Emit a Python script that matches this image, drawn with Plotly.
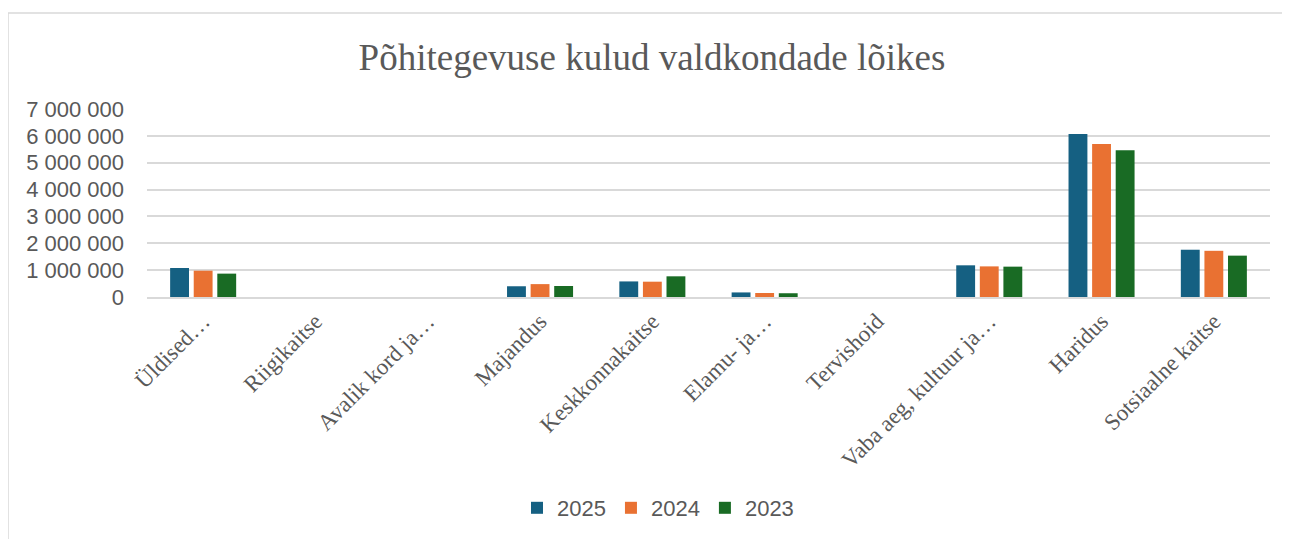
import plotly.graph_objects as go

categories = ["Üldised…", "Riigikaitse", "Avalik kord ja…", "Majandus", "Keskkonnakaitse",
              "Elamu- ja…", "Tervishoid", "Vaba aeg, kultuur ja…", "Haridus", "Sotsiaalne kaitse"]
years = ["2025", "2024", "2023"]
kulud_2025 = [1080000, 0, 0, 400000, 580000, 170000, 0, 1180000, 6070000, 1760000]
kulud_2024 = [980000, 0, 0, 480000, 570000, 150000, 0, 1140000, 5700000, 1720000]
kulud_2023 = [870000, 0, 0, 410000, 770000, 140000, 0, 1130000, 5460000, 1540000]
y_ticks = [0, 1000000, 2000000, 3000000, 4000000, 5000000, 6000000, 7000000]

colors = {"2025": "#156082", "2024": "#E97132", "2023": "#196B24"}
series = {"2025": kulud_2025, "2024": kulud_2024, "2023": kulud_2023}

# page is drawn with an 8px body margin, so target page positions are shifted
OFF = 8
W, H = 1290, 539
L, R, T, B = 147 - OFF, 1270 - OFF, 109 - OFF, 297 - OFF
pw, ph = R - L, B - T


def px_x(x):
    return (x - OFF - L) / pw


def px_y(y):
    return (B - (y - OFF)) / ph


fig = go.Figure()
for yr in years:
    fig.add_trace(go.Bar(x=categories, y=series[yr], name=yr,
                         marker=dict(color=colors[yr], line=dict(width=0))))

grey = "#595959"
fig.update_layout(
    width=W, height=H,
    margin=dict(l=L, r=W - R, t=T, b=H - B),
    paper_bgcolor="white", plot_bgcolor="white",
    barmode="group", bargap=0.37, bargroupgap=0.2,
    separators=", ",
    title=dict(text="Põhitegevuse kulud valdkondade lõikes",
               font=dict(family="Liberation Serif", size=37, color=grey),
               x=(652 - OFF) / W, xanchor="center", y=1 - (57 - OFF) / H, yanchor="middle"),
    legend=dict(orientation="h", x=px_x(658), xanchor="center",
                y=px_y(508), yanchor="middle",
                font=dict(family="Liberation Sans", size=22, color=grey),
                itemwidth=30, traceorder="normal"),
    showlegend=True,
    shapes=[dict(type="rect", xref="paper", yref="paper",
                 x0=px_x(8), x1=px_x(1310), y0=px_y(570), y1=px_y(13),
                 line=dict(color="#d9d9d9", width=1.5), layer="below")],
)
fig.update_xaxes(showgrid=False, showline=True, linecolor="#d9d9d9", linewidth=1.5,
                 tickangle=-45, automargin=False,
                 tickfont=dict(family="Liberation Serif", size=23, color=grey))
fig.update_yaxes(range=[0, 7000000], tickvals=y_ticks, tickformat=",d",
                 showgrid=True, gridcolor="#d9d9d9", gridwidth=1.5,
                 zeroline=False, automargin=False, ticklabelstandoff=22,
                 tickfont=dict(family="Liberation Sans", size=22, color=grey))

fig.write_html("out.html")
